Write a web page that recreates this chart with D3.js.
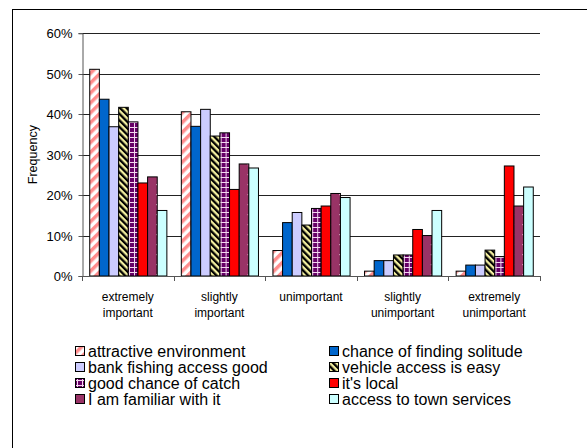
<!DOCTYPE html>
<html>
<head>
<meta charset="utf-8">
<script src="https://cdn.jsdelivr.net/npm/d3@7"></script>
<style>
  html, body { margin: 0; padding: 0; background: #fff; }
  svg { display: block; font-family: "Liberation Sans", Arial, sans-serif; }
</style>
</head>
<body>
<svg id="chart" width="587" height="448"></svg>
<script>
// Importance ratings for reasons to choose a fishing site (share of respondents)
const categories = [
  ["extremely", "important"],
  ["slightly", "important"],
  ["unimportant"],
  ["slightly", "unimportant"],
  ["extremely", "unimportant"]
];
const seriesNames = [
  "attractive environment",
  "chance of finding solitude",
  "bank fishing access good",
  "vehicle access is easy",
  "good chance of catch",
  "it's local",
  "I am familiar with it",
  "access to town services"
];
const attractiveEnvironment = [0.511, 0.406, 0.063, 0.012, 0.012];
const chanceOfSolitude      = [0.437, 0.370, 0.132, 0.038, 0.027];
const bankFishingAccess     = [0.369, 0.412, 0.157, 0.038, 0.027];
const vehicleAccess         = [0.417, 0.346, 0.126, 0.052, 0.064];
const goodChanceOfCatch     = [0.381, 0.354, 0.167, 0.052, 0.048];
const itsLocal              = [0.230, 0.214, 0.173, 0.115, 0.272];
const familiarWithIt        = [0.245, 0.277, 0.204, 0.100, 0.173];
const townServices          = [0.162, 0.267, 0.194, 0.162, 0.220];
const yTicks = [0, 0.1, 0.2, 0.3, 0.4, 0.5, 0.6];

const seriesValues = [
  attractiveEnvironment, chanceOfSolitude, bankFishingAccess, vehicleAccess,
  goodChanceOfCatch, itsLocal, familiarWithIt, townServices
];

const svg = d3.select("#chart");
const defs = svg.append("defs");

// Fill patterns
function stripes(id, bg, fg, size, stripeW, angle) {
  const p = defs.append("pattern").attr("id", id)
    .attr("patternUnits", "userSpaceOnUse")
    .attr("width", size).attr("height", size)
    .attr("patternTransform", `rotate(${angle})`);
  p.append("rect").attr("width", size).attr("height", size).attr("fill", bg);
  p.append("rect").attr("width", stripeW).attr("height", size).attr("fill", fg);
}
stripes("pAttractive", "#ffffff", "#ff8c8c", 7, 3.5, 45);
stripes("pVehicle", "#f4f0a0", "#000000", 4.6, 2.3, -45);

const grid = defs.append("pattern").attr("id", "pCatch")
  .attr("patternUnits", "userSpaceOnUse").attr("width", 5).attr("height", 5);
grid.append("rect").attr("width", 5).attr("height", 5).attr("fill", "#660066");
grid.append("rect").attr("x", 2).attr("width", 1).attr("height", 5).attr("fill", "#f4d8f0");
grid.append("rect").attr("y", 2).attr("width", 5).attr("height", 1).attr("fill", "#f4d8f0");

const dots = defs.append("pattern").attr("id", "pFamiliar")
  .attr("patternUnits", "userSpaceOnUse").attr("width", 10).attr("height", 10);
dots.append("rect").attr("width", 10).attr("height", 10).attr("fill", "#993366");
dots.append("rect").attr("x", 4).attr("y", 4).attr("width", 1.2).attr("height", 1.2).attr("fill", "#f0d0e0");

const fills = [
  "url(#pAttractive)", "#0066cc", "#ccccff", "url(#pVehicle)",
  "url(#pCatch)", "#ff0000", "url(#pFamiliar)", "#ccffff"
];

// Outer chart frame
svg.append("rect")
  .attr("x", 12.5).attr("y", 9.5).attr("width", 620).attr("height", 500)
  .attr("fill", "none").attr("stroke", "#000").attr("stroke-width", 1);

const plot = { left: 82, right: 540, top: 33.3, bottom: 276 };

const y = d3.scaleLinear().domain([0, 0.6]).range([plot.bottom, plot.top]);
const x0 = d3.scaleBand().domain(d3.range(categories.length))
  .range([plot.left, plot.right]).paddingInner(0).paddingOuter(0);
const x1 = d3.scaleBand().domain(d3.range(seriesNames.length))
  .range([0, x0.bandwidth()]).paddingInner(0).paddingOuter(0.75);

// Gridlines
svg.append("g").selectAll("line").data(yTicks.slice(1)).join("line")
  .attr("x1", plot.left).attr("x2", plot.right)
  .attr("y1", d => Math.round(y(d)) + 0.5).attr("y2", d => Math.round(y(d)) + 0.5)
  .attr("stroke", "#222").attr("stroke-width", 1);

// Y axis
const yAxis = d3.axisLeft(y).tickValues(yTicks).tickFormat(d3.format(".0%"))
  .tickSize(4).tickPadding(6);
const gy = svg.append("g").attr("transform", `translate(${plot.left + 0.5},0)`).call(yAxis);
gy.select(".domain").attr("stroke", "#555");
gy.selectAll(".tick line").attr("stroke", "#555");
gy.selectAll(".tick").attr("transform", d => `translate(0,${Math.round(y(d)) + 0.5})`);
gy.selectAll(".tick text").attr("font-size", 13).attr("fill", "#000")
  .attr("font-family", "Liberation Sans, Arial, sans-serif");

// Bars
const groups = svg.append("g").selectAll("g").data(categories).join("g")
  .attr("transform", (d, i) => `translate(${x0(i)},0)`);
groups.selectAll("rect")
  .data((d, ci) => seriesValues.map((vals, si) => ({ si, v: vals[ci] })))
  .join("rect")
  .attr("x", d => x1(d.si) + 0.5)
  .attr("y", d => y(d.v))
  .attr("width", x1.bandwidth())
  .attr("height", d => plot.bottom - y(d.v))
  .attr("fill", d => fills[d.si])
  .attr("stroke", "#000").attr("stroke-width", 1);

// X axis with ticks between categories
const xAxisLine = svg.append("g");
xAxisLine.append("line")
  .attr("x1", plot.left).attr("x2", plot.right + 1)
  .attr("y1", plot.bottom + 0.5).attr("y2", plot.bottom + 0.5)
  .attr("stroke", "#555");
xAxisLine.selectAll("line.tk")
  .data(d3.range(categories.length + 1)).join("line").attr("class", "tk")
  .attr("x1", i => Math.round(i < categories.length ? x0(i) : plot.right) + 0.5)
  .attr("x2", i => Math.round(i < categories.length ? x0(i) : plot.right) + 0.5)
  .attr("y1", plot.bottom).attr("y2", plot.bottom + 5)
  .attr("stroke", "#555");

const catLabels = svg.append("g").selectAll("text").data(categories).join("text")
  .attr("x", (d, i) => x0(i) + x0.bandwidth() / 2)
  .attr("y", 301)
  .attr("text-anchor", "middle")
  .attr("font-size", 12);
catLabels.selectAll("tspan").data(d => d).join("tspan")
  .attr("x", function () { return d3.select(this.parentNode).attr("x"); })
  .attr("dy", (d, i) => i === 0 ? 0 : 16)
  .text(d => d);

// Y title
svg.append("text")
  .attr("transform", `translate(37,${(plot.top + plot.bottom) / 2}) rotate(-90)`)
  .attr("text-anchor", "middle")
  .attr("font-size", 12.5)
  .text("Frequency");

// Legend, two columns filled row by row
const legend = svg.append("g");
const legendCols = [75, 329];
const legendItems = legend.selectAll("g").data(seriesNames).join("g")
  .attr("transform", (d, i) => `translate(${legendCols[i % 2]},${351 + Math.floor(i / 2) * 16})`);
legendItems.append("rect")
  .attr("x", 0.5).attr("y", -4.5).attr("width", 9).attr("height", 9)
  .attr("fill", (d, i) => fills[i]).attr("stroke", "#000");
legendItems.append("text")
  .attr("x", 13).attr("y", 5.5)
  .attr("font-size", 16)
  .text(d => d);
</script>
</body>
</html>
